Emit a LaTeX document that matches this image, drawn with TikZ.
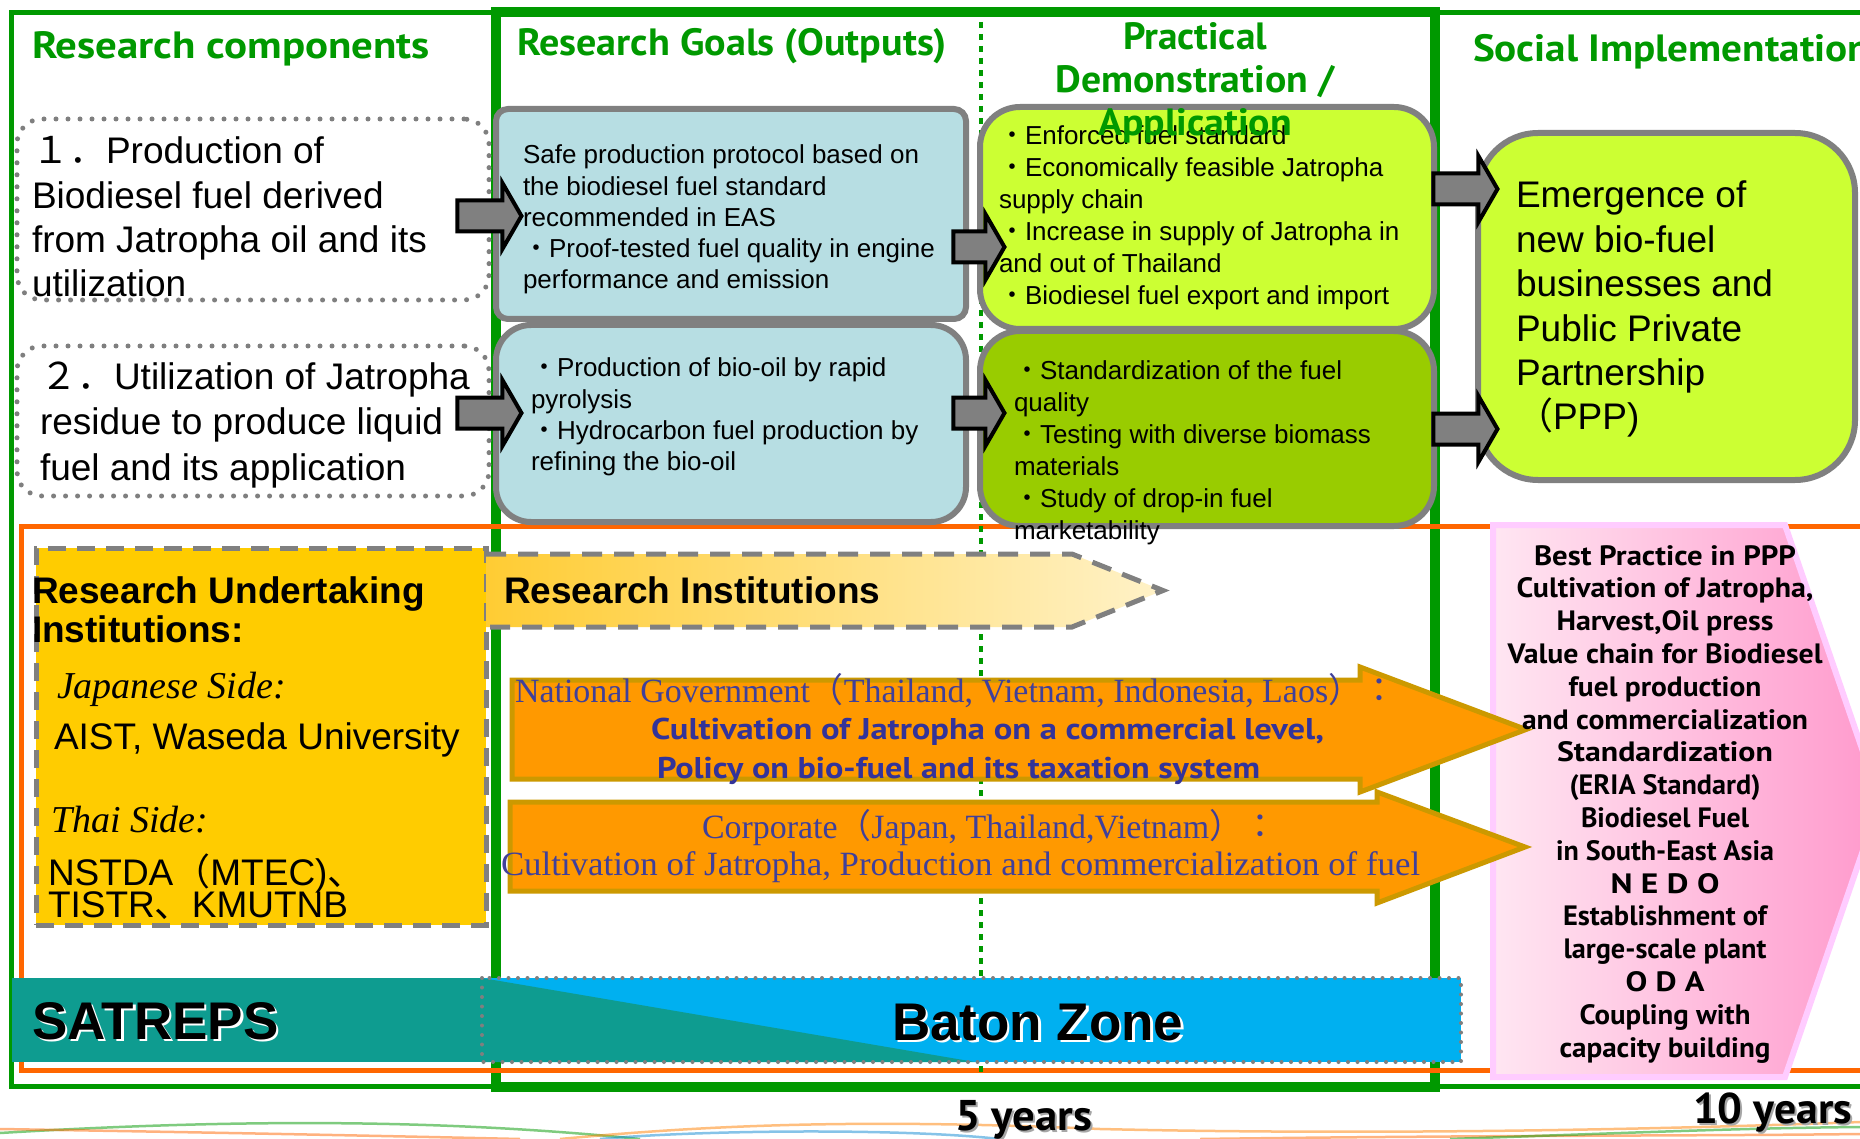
\documentclass[tikz,border=0pt]{standalone}
\usepackage{graphicx}
\usepackage{fontspec}
\setmainfont{Liberation Sans}
\newfontfamily\hdfont{PT Sans}
\newfontfamily\srf{Liberation Serif}
\newfontfamily\cjk{Noto Sans CJK JP}
\usetikzlibrary{shapes.arrows}
\newcommand\fitw[2]{\resizebox{#1}{\height}{#2}}
\newcommand\fs[2]{\fontsize{#1}{#2}\selectfont}
\newcommand\VL[1]{\vtop{\lineskiplimit=-1000pt\lineskip=0pt\halign{##\hfil\cr#1\crcr}}}
\newcommand\VC[1]{\vtop{\lineskiplimit=-1000pt\lineskip=0pt\halign{\hfil##\hfil\cr#1\crcr}}}
\definecolor{grn}{HTML}{009900}
\definecolor{bluebox}{HTML}{B7DEE3}
\definecolor{bord}{HTML}{808080}
\definecolor{lime}{HTML}{CCFF33}
\definecolor{darklime}{HTML}{99CC00}
\definecolor{yel}{HTML}{FFCC00}
\definecolor{orarrow}{HTML}{FF9900}
\definecolor{orborder}{HTML}{CC9900}
\definecolor{navy}{HTML}{333399}
\definecolor{navylt}{HTML}{40409A}
\definecolor{tealband}{HTML}{0E9C90}
\definecolor{sky}{HTML}{00B0F0}
\definecolor{orline}{HTML}{FF6600}
\definecolor{pinkL}{HTML}{FFE6F2}
\definecolor{pinkR}{HTML}{FF99CC}
\definecolor{pinkB}{HTML}{FFCCFF}
\definecolor{riL}{HTML}{FFCC33}
\definecolor{riR}{HTML}{FFF2C8}
\definecolor{dotgray}{HTML}{7F7F7F}
\begin{document}
\begin{tikzpicture}[x=1pt,y=-1pt,
  every node/.style={inner sep=0pt, outer sep=0pt},
  txt/.style={anchor=base west},
  dotbox/.style={rectangle, draw=dotgray, line width=5pt, dash pattern=on 0pt off 12pt, line cap=round, rounded corners=25pt},
  gbox/.style={rectangle, draw=bord, line width=6pt},
  blockarr/.style={shape=single arrow, fill=bord, draw=black, line width=4pt, inner sep=0pt, inner ysep=13.5pt, single arrow head extend=17.5pt, single arrow tip angle=120},
  dashbox/.style={draw=bord, line width=5pt, dash pattern=on 18pt off 11pt},
  orarr/.style={fill=orarrow, draw=orborder, line width=5pt, line join=miter},
  head/.style={txt, text=grn, font=\hdfont\bfseries\fs{38}{43}}
]
\useasboundingbox (0,0) rectangle (1860,1139);
\fill[white] (0,0) rectangle (1860,1139);

% faint decorative curves at the bottom
\begin{scope}[opacity=0.5, line width=2.5pt]
\draw[green!60!black] (0,1133) .. controls (250,1118) and (450,1120) .. (640,1139);
\draw[orline] (0,1129) .. controls (120,1131) and (300,1134) .. (520,1139);
\draw[orange] (560,1139) .. controls (700,1126) and (850,1118) .. (1100,1129) .. controls (1400,1136) and (1700,1128) .. (1860,1122);
\draw[cyan!70!blue] (600,1139) .. controls (700,1130) and (900,1128) .. (1000,1139);
\draw[orline] (1200,1139) .. controls (1500,1135) and (1700,1136) .. (1860,1134);
\draw[green!60!black] (1450,1139) .. controls (1650,1132) and (1750,1128) .. (1860,1127);
\end{scope}

% frames
\draw[grn, line width=5pt] (11,13) rectangle (1880,1086);
\draw[grn, line width=10pt] (496,12) rectangle (1435,1087);
\draw[orline, line width=5pt] (21,526) rectangle (1885,1070);
\draw[grn, line width=4pt, dash pattern=on 6pt off 6pt] (981,22) -- (981,1072);

% research components (dotted boxes)
\node[dotbox, minimum width=472pt, minimum height=181pt] (comp1) at (253,209.5) {};
\node[dotbox, minimum width=472pt, minimum height=150pt] (comp2) at (253,421) {};

% goals / practical / social boxes
\node[gbox, fill=bluebox, rounded corners=12pt, minimum width=470pt, minimum height=210pt] (goalA) at (731,214) {};
\node[gbox, fill=bluebox, rounded corners=35pt, minimum width=470pt, minimum height=197pt] (goalB) at (731,423.5) {};
\node[gbox, fill=lime, rounded corners=40pt, minimum width=454pt, minimum height=222pt] (pracC) at (1207,218) {};
\node[gbox, fill=darklime, rounded corners=40pt, minimum width=454pt, minimum height=195pt] (pracD) at (1207,428.5) {};
\node[gbox, fill=lime, rounded corners=60pt, minimum width=377pt, minimum height=347pt] (socE) at (1666.5,306.5) {};

% block arrows
\node[blockarr, minimum height=64pt] (a1) at (485,216) {};
\node[blockarr, minimum height=64pt] (a2) at (485,413) {};
\node[blockarr, minimum height=51pt] (a3) at (974.5,247) {};
\node[blockarr, minimum height=51pt] (a4) at (974.5,413) {};
\node[blockarr, minimum height=64pt] (a5) at (1461,189) {};
\node[blockarr, minimum height=64pt] (a6) at (1461,429) {};

% research undertaking institutions
\node[rectangle, fill=yel, dashbox, minimum width=450pt, minimum height=377pt] (ybox) at (261,736.5) {};
\shade[left color=riL, right color=riR] (486,554) -- (1072,554) -- (1163,590.5) -- (1072,627) -- (486,627) -- cycle;
\draw[draw=bord, line width=5pt, dash pattern=on 20pt off 12pt] (486,554) -- (1072,554) -- (1163,590.5) -- (1072,627) -- (486,627);

% pink best practice arrow
\shade[left color=pinkL, right color=pinkR] (1493,525) -- (1785,525) -- (1880,801) -- (1785,1077) -- (1493,1077) -- cycle;
\draw[pinkB, line width=6pt] (1493,525) -- (1785,525) -- (1880,801) -- (1785,1077) -- (1493,1077) -- cycle;

% orange arrows (drawn over the pink shape)
\draw[orarr] (512,680) -- (1360,680) -- (1360,667) -- (1526,729.5) -- (1360,792) -- (1360,779) -- (512,779) -- cycle;
\draw[orarr] (510,802) -- (1377,802) -- (1377,792) -- (1525,847) -- (1377,903) -- (1377,891) -- (510,891) -- cycle;

% baton zone band
\fill[sky] (482,978) rectangle (1461,1062);
\fill[tealband] (12,978) rectangle (482,1062);
\fill[tealband] (482,978) -- (975,1062) -- (482,1062) -- cycle;
\draw[dotgray, line width=4pt, dash pattern=on 0pt off 9.5pt, line cap=round] (482,978) rectangle (1461,1062);

% headings
\node[head] (h1) at (32,59) {\fitw{398pt}{Research components}};
\node[head] (h2) at (517,56) {\fitw{430pt}{Research Goals (Outputs)}};
\node[head, anchor=base] (h3) at (1195,50) {\VC{\fitw{144pt}{Practical}\cr\fitw{279pt}{Demonstration /}}};

% component texts
\node[txt, font=\fs{37}{44.33}] (t1) at (32,164) {\VL{{\cjk １．}Production of\cr Biodiesel fuel derived\cr from Jatropha oil and its\cr utilization}};
\node[txt, font=\fs{37}{45.5}] (t2) at (40,389) {\VL{{\cjk ２．}Utilization of Jatropha\cr residue to produce liquid\cr fuel and its application}};

% goal texts
\node[txt, font=\fs{26}{31.25}] (tA) at (523,164) {\VL{Safe production protocol based on\cr the biodiesel fuel standard\cr recommended in EAS\cr {\cjk ・}Proof-tested fuel quality in engine\cr performance and emission}};
\node[txt, font=\fs{26}{31.3}] (tB) at (531,377) {\VL{{\cjk ・}Production of bio-oil by rapid\cr pyrolysis\cr {\cjk ・}Hydrocarbon fuel production by\cr refining the bio-oil}};

% practical texts
\node[txt, font=\fs{26}{32}] (tC) at (999,145) {\VL{{\cjk ・}Enforced fuel standard\cr {\cjk ・}Economically feasible Jatropha\cr supply chain\cr {\cjk ・}Increase in supply of Jatropha in\cr and out of Thailand\cr {\cjk ・}Biodiesel fuel export and import}};
\node[txt, font=\fs{26}{32.2}] (tD) at (1014,379) {\VL{{\cjk ・}Standardization of the fuel\cr quality\cr {\cjk ・}Testing with diverse biomass\cr materials\cr {\cjk ・}Study of drop-in fuel\cr marketability}};

% last heading line, printed over box C as in the original
\node[head, anchor=base] (h3b) at (1195,136) {\fitw{194pt}{Application}};
\node[head] (h4) at (1473,62) {\fitw{397pt}{Social Implementation}};

% social text
\node[txt, font=\fs{37}{44.4}] (tE) at (1516,208) {\VL{Emergence of\cr new bio-fuel\cr businesses and\cr Public Private\cr Partnership\cr {\cjk （}PPP)}};

% yellow box texts
\node[txt, font=\bfseries\fs{37}{39}] (y1) at (32,603) {\VL{Research Undertaking\cr Institutions:}};
\node[txt, font=\srf\itshape\fs{38}{40}] (y2) at (57,698) {Japanese Side:};
\node[txt, font=\fs{37}{40}] (y3) at (54,749) {AIST, Waseda University};
\node[txt, font=\srf\itshape\fs{38}{40}] (y4) at (51,832) {Thai Side:};
\node[txt, font=\fs{37}{32}] (y5) at (48,885) {\VL{NSTDA{\cjk （}MTEC){\cjk 、}\cr TISTR{\cjk 、}KMUTNB}};
\node[txt, font=\bfseries\fs{37}{40}] (ri) at (504,603) {Research Institutions};

% orange arrow texts
\node[txt, text=navylt, font=\srf\fs{34}{36}] (n1) at (515,702) {\fitw{881pt}{National Government{\cjk （}Thailand, Vietnam, Indonesia, Laos{\cjk ）：}}};
\node[txt, text=navy, font=\hdfont\bfseries\fs{30}{32}] (n2) at (651,739) {\fitw{673pt}{Cultivation of Jatropha on a commercial level,}};
\node[txt, text=navy, font=\hdfont\bfseries\fs{30}{32}] (n3) at (657,778) {\fitw{603pt}{Policy on bio-fuel and its taxation system}};
\node[txt, text=navylt, font=\srf\fs{34}{36}] (c1) at (702,838) {\fitw{575pt}{Corporate{\cjk （}Japan, Thailand,Vietnam{\cjk ）：}}};
\node[txt, text=navylt, font=\srf\fs{34}{36}] (c2) at (501,875) {\fitw{919pt}{Cultivation of Jatropha, Production and commercialization of fuel}};

% pink texts
\node[anchor=base, font=\hdfont\bfseries\fs{28}{32.8}] (pk) at (1665,565) {\VC{%
\fitw{262pt}{Best Practice in PPP}\cr
\fitw{297pt}{Cultivation of Jatropha,}\cr
\fitw{217pt}{Harvest,Oil press}\cr
\fitw{315pt}{Value chain for Biodiesel}\cr
\fitw{193pt}{fuel production}\cr
\fitw{286pt}{and commercialization}\cr
\fitw{216pt}{Standardization}\cr
\fitw{191pt}{(ERIA Standard)}\cr
\fitw{168pt}{Biodiesel Fuel}\cr
\fitw{218pt}{in South-East Asia}\cr
\fitw{109pt}{N E D O}\cr
\fitw{204pt}{Establishment of}\cr
\fitw{203pt}{large-scale plant}\cr
\fitw{79pt}{O D A}\cr
\fitw{171pt}{Coupling with}\cr
\fitw{211pt}{capacity building}}};

% band texts
\node[txt, text=white, font=\bfseries\fs{53}{55}] (satS) at (34.5,1041.5) {SATREPS};
\node[txt, font=\bfseries\fs{53}{55}] (sat) at (32,1039) {SATREPS};
\node[txt, text=white, font=\bfseries\fs{53}{55}] (batS) at (894.5,1042.5) {Baton Zone};
\node[txt, font=\bfseries\fs{53}{55}] (bat) at (892,1040) {Baton Zone};

% years
\node[txt, text=black!35, font=\hdfont\bfseries\fs{43}{45}] (y5s) at (957,1132) {\fitw{137pt}{5 years}};
\node[txt, font=\hdfont\bfseries\fs{43}{45}] (y5y) at (955,1130) {\fitw{137pt}{5 years}};
\node[txt, text=black!35, font=\hdfont\bfseries\fs{43}{45}] (y10s) at (1695,1125) {\fitw{159pt}{10 years}};
\node[txt, font=\hdfont\bfseries\fs{43}{45}] (y10y) at (1693,1123) {\fitw{159pt}{10 years}};
\end{tikzpicture}
\end{document}
